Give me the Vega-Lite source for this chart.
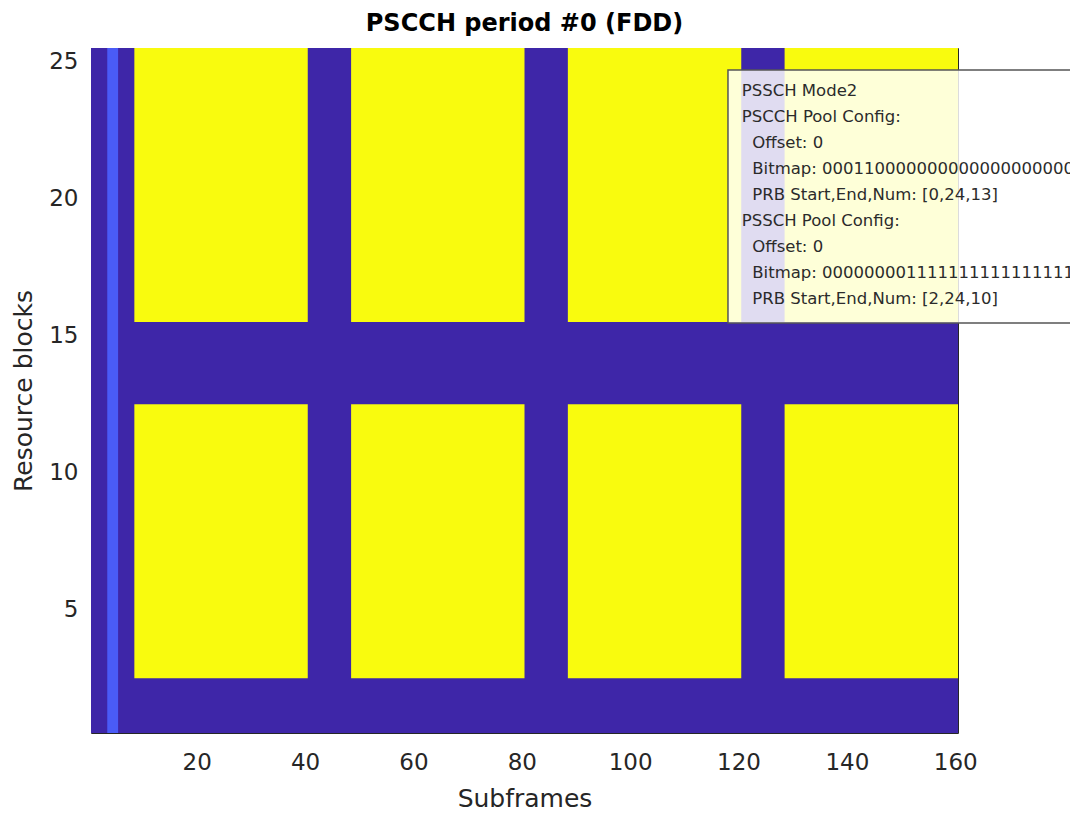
{
  "$schema": "https://vega.github.io/schema/vega-lite/v6.json",
  "autosize": {"type": "none"},
  "width": 867,
  "height": 685,
  "padding": {"left": 91, "top": 48, "right": 112, "bottom": 84},
  "background": "white",
  "title": {"text": "PSCCH period #0 (FDD)", "font": "DejaVu Sans", "fontSize": 24, "fontWeight": "bold", "color": "#000000", "offset": 12, "anchor": "middle"},
  "datasets": {
    "regions": [
      {"usage": "Unused", "sf_from": 0.5, "sf_to": 160.5, "rb_from": 0.5, "rb_to": 25.5},
      {"usage": "PSCCH", "sf_from": 3.5, "sf_to": 5.5, "rb_from": 0.5, "rb_to": 25.5},
      {"usage": "PSSCH", "sf_from": 8.5, "sf_to": 40.5, "rb_from": 2.5, "rb_to": 12.5},
      {"usage": "PSSCH", "sf_from": 8.5, "sf_to": 40.5, "rb_from": 15.5, "rb_to": 25.5},
      {"usage": "PSSCH", "sf_from": 48.5, "sf_to": 80.5, "rb_from": 2.5, "rb_to": 12.5},
      {"usage": "PSSCH", "sf_from": 48.5, "sf_to": 80.5, "rb_from": 15.5, "rb_to": 25.5},
      {"usage": "PSSCH", "sf_from": 88.5, "sf_to": 120.5, "rb_from": 2.5, "rb_to": 12.5},
      {"usage": "PSSCH", "sf_from": 88.5, "sf_to": 120.5, "rb_from": 15.5, "rb_to": 25.5},
      {"usage": "PSSCH", "sf_from": 128.5, "sf_to": 160.5, "rb_from": 2.5, "rb_to": 12.5},
      {"usage": "PSSCH", "sf_from": 128.5, "sf_to": 160.5, "rb_from": 15.5, "rb_to": 25.5}
    ],
    "annotation": [
      {"label": "PSSCH Mode2\nPSCCH Pool Config:\n\u200b\u00a0\u00a0Offset: 0\n\u200b\u00a0\u00a0Bitmap: 0001100000000000000000000000000000000000\n\u200b\u00a0\u00a0PRB Start,End,Num: [0,24,13]\nPSSCH Pool Config:\n\u200b\u00a0\u00a0Offset: 0\n\u200b\u00a0\u00a0Bitmap: 0000000011111111111111111111111111111111\n\u200b\u00a0\u00a0PRB Start,End,Num: [2,24,10]"}
    ]
  },
  "layer": [
    {
      "data": {"name": "regions"},
      "mark": {"type": "rect"},
      "encoding": {
        "x": {"field": "sf_from", "type": "quantitative", "scale": {"domain": [0.5, 160.5], "nice": false, "zero": false},
              "axis": {"orient": "bottom", "title": "Subframes", "values": [20, 40, 60, 80, 100, 120, 140, 160], "labelPadding": 26}},
        "x2": {"field": "sf_to"},
        "y": {"field": "rb_from", "type": "quantitative", "scale": {"domain": [0.5, 25.5], "nice": false, "zero": false},
              "axis": {"orient": "left", "title": "Resource blocks", "values": [5, 10, 15, 20, 25], "labelPadding": 21}},
        "y2": {"field": "rb_to"},
        "color": {"field": "usage", "type": "nominal", "scale": {"domain": ["Unused", "PSCCH", "PSSCH"], "range": ["#3E26A8", "#4A5BF7", "#F9FB0E"]}, "legend": null}
      }
    },
    {
      "data": {"name": "regions"},
      "mark": {"type": "rect", "opacity": 0},
      "encoding": {
        "x": {"field": "sf_from", "type": "quantitative", "axis": {"orient": "top", "title": null, "labels": false, "values": [20, 40, 60, 80, 100, 120, 140, 160]}},
        "x2": {"field": "sf_to"},
        "y": {"field": "rb_from", "type": "quantitative", "axis": {"orient": "right", "title": null, "labels": false, "values": [5, 10, 15, 20, 25]}},
        "y2": {"field": "rb_to"}
      }
    },
    {
      "data": {"name": "annotation"},
      "mark": {"type": "rect", "fill": "#ffffff", "fillOpacity": 0.84, "stroke": "#555555", "strokeWidth": 1.5, "clip": false},
      "encoding": {
        "x": {"datum": 118.05, "type": "quantitative", "axis": null},
        "x2": {"datum": 200},
        "y": {"datum": 24.7, "type": "quantitative", "axis": null},
        "y2": {"datum": 15.46}
      }
    },
    {
      "data": {"name": "annotation"},
      "mark": {"type": "text", "align": "left", "baseline": "middle", "font": "DejaVu Sans", "fontSize": 16.5, "lineHeight": 26, "lineBreak": "\n", "color": "#2b2b2b", "clip": false},
      "encoding": {
        "x": {"datum": 120.6, "type": "quantitative", "axis": null},
        "y": {"datum": 23.93, "type": "quantitative", "axis": null},
        "text": {"field": "label", "type": "nominal"}
      }
    }
  ],
  "resolve": {"axis": {"x": "independent", "y": "independent"}},
  "config": {
    "view": {"stroke": "#262626", "strokeWidth": 1},
    "axis": {
      "grid": false,
      "domain": false,
      "ticks": true,
      "tickSize": -8,
      "tickColor": "#262626",
      "tickWidth": 1,
      "labelFont": "DejaVu Sans",
      "labelFontSize": 23,
      "labelColor": "#262626",
      "labelPadding": 12,
      "titleFont": "DejaVu Sans",
      "titleFontSize": 25,
      "titleFontWeight": "normal",
      "titleColor": "#262626",
      "titlePadding": 12
    }
  }
}
